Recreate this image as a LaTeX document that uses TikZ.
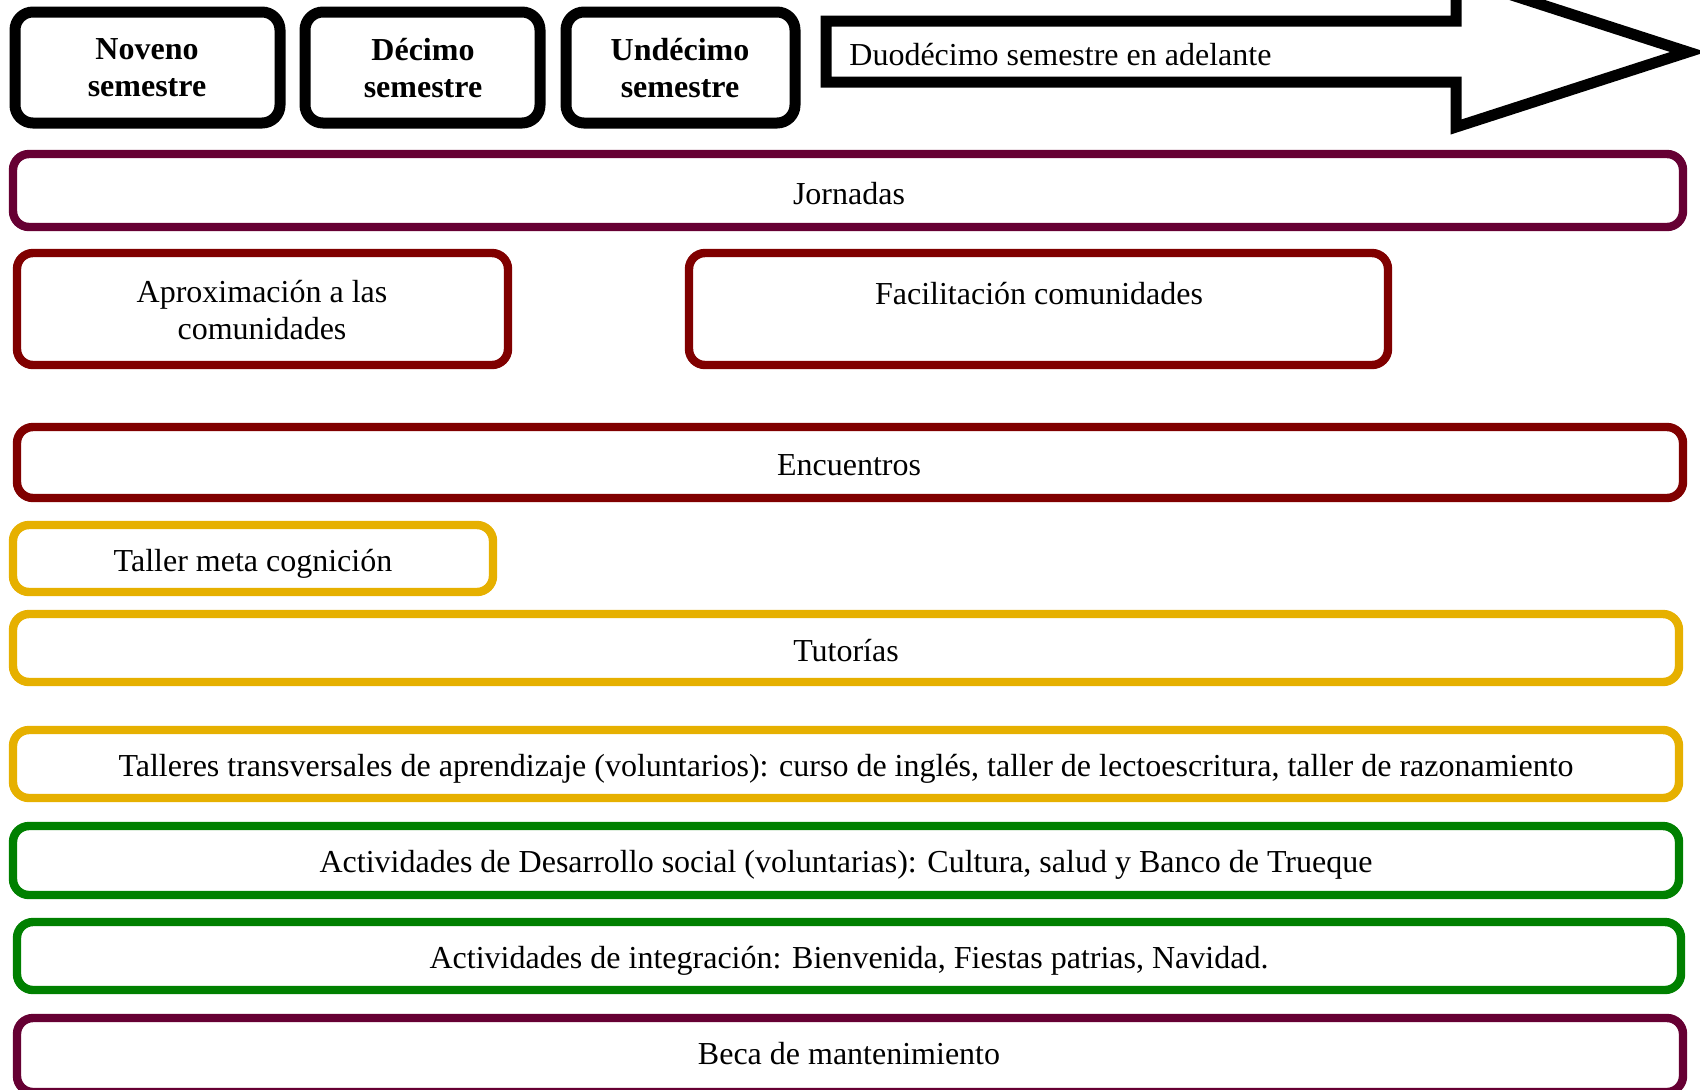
\documentclass[tikz,border=0pt]{standalone}
\usepackage{fontspec}
\setmainfont{Liberation Serif}
\usetikzlibrary{positioning}

\definecolor{colPlum}{RGB}{102,0,51}
\definecolor{colRed}{RGB}{128,0,0}
\definecolor{colGold}{RGB}{230,176,0}
\definecolor{colGreen}{RGB}{0,128,0}

\tikzset{
  semestre/.style={draw=black, line width=5.5pt, rounded corners=9pt},
  franja/.style={draw=#1, line width=4.2pt, rounded corners=8pt},
  etiqueta/.style={font=\fontsize{16}{18.5}\selectfont, align=center, inner sep=0pt},
}

\begin{document}
\begin{tikzpicture}[x=0.5pt,y=-0.5pt]
\useasboundingbox (0,0) rectangle (1700,1089);

% semestres
\draw[semestre] (15,12) rectangle (280,123);
\draw[semestre] (305,12) rectangle (540,123);
\draw[semestre] (566,12) rectangle (795,123);
\node[etiqueta,font=\fontsize{16}{18.5}\selectfont\bfseries] (noveno) at (147,68) {Noveno\\semestre};
\node[etiqueta,font=\fontsize{16}{18.5}\selectfont\bfseries] (decimo) at (423,68) {Décimo\\semestre};
\node[etiqueta,font=\fontsize{16}{18.5}\selectfont\bfseries] (undecimo) at (680,68) {Undécimo\\semestre};

% flecha
\draw[line width=5.5pt, miter limit=10]
  (826,21) -- (1456,21) -- (1456,-23) -- (1688,52) -- (1456,127) -- (1456,82) -- (826,82) -- cycle;
\node[etiqueta, anchor=west] (duodecimo) at (849,55) {Duodécimo semestre en adelante};

% franjas
\draw[franja=colPlum] (13,154) rectangle (1683,227);
\node[etiqueta] (jornadas) at (849,194) {Jornadas};

\draw[franja=colRed] (17,253) rectangle (508,365);
\node[etiqueta] (aproximacion) at (262,310) {Aproximación a las\\comunidades};
\draw[franja=colRed] (689,253) rectangle (1388,365);
\node[etiqueta] (facilitacion) at (1039,294) {Facilitación comunidades};

\draw[franja=colRed] (17,427) rectangle (1683,498);
\node[etiqueta] (encuentros) at (849,465) {Encuentros};

\draw[franja=colGold] (13,525) rectangle (493,592);
\node[etiqueta] (metacognicion) at (253,564) {Taller meta cognición};

\draw[franja=colGold] (13,614) rectangle (1679,682);
\node[etiqueta] (tutorias) at (846,651) {Tutorías};

\draw[franja=colGold] (13,730) rectangle (1679,798);
\node[etiqueta] (talleres) at (846,769) {Talleres transversales de aprendizaje (voluntarios): curso de inglés, taller de lectoescritura, taller de razonamiento};

\draw[franja=colGreen] (13,826) rectangle (1679,895);
\node[etiqueta] (desarrollo) at (846,865) {Actividades de Desarrollo social (voluntarias): Cultura, salud y Banco de Trueque};

\draw[franja=colGreen] (17,922) rectangle (1681,990);
\node[etiqueta] (integracion) at (849,961) {Actividades de integración: Bienvenida, Fiestas patrias, Navidad.};

\draw[franja=colPlum] (17,1018) rectangle (1683,1092);
\node[etiqueta] (beca) at (849,1054) {Beca de mantenimiento};
\end{tikzpicture}
\end{document}
